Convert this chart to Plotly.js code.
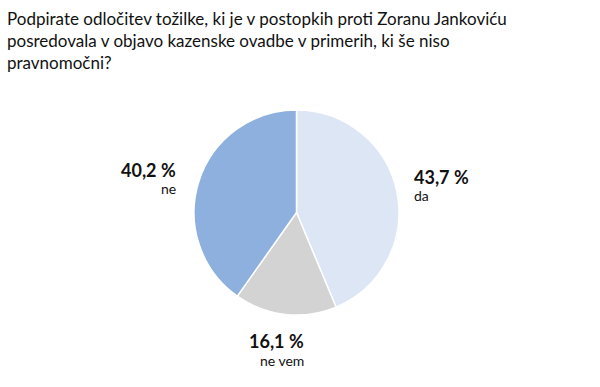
<!DOCTYPE html>
<html><head><meta charset="utf-8">
<script src="https://cdn.plot.ly/plotly-3.0.1.min.js"></script>
<style>html,body{margin:0;padding:0;background:#fff}#c{width:600px;height:387px}</style>
</head><body><div id="c"></div>
<script>
const categories = ["da", "ne vem", "ne"];
const values = [43.7, 16.1, 40.2];
const valueLabels = ["43,7 %", "16,1 %", "40,2 %"];
const colors = ["#dce6f5", "#d3d3d3", "#8eb0de"];
const titleText = "Podpirate odločitev tožilke, ki je v postopkih proti Zoranu Jankoviću<br>posredovala v objavo kazenske ovadbe v primerih, ki še niso<br>pravnomočni?";

const W = 600, H = 387;
const cx = 296.5, cy = 212.5, r = 102.5;
const FONT = "Lato, sans-serif";

// label positions (pixel) per category: [x, yValue, yCat, anchor]
const labelPos = {
  "da": [412, 177, 195, "left"],
  "ne vem": [306, 341, 360, "right"],
  "ne": [178, 170, 188, "right"]
};

const annotations = [{
  text: titleText, xref: "paper", yref: "paper", x: 5 / W, y: 1 - 6 / H,
  xanchor: "left", yanchor: "top", align: "left", showarrow: false,
  font: {family: FONT, size: 17, color: "#111111"}
}];
categories.forEach((c, i) => {
  const p = labelPos[c];
  annotations.push({
    text: "<b>" + valueLabels[i] + "</b>", xref: "paper", yref: "paper",
    x: p[0] / W, y: 1 - p[1] / H, xanchor: p[3], yanchor: "middle", showarrow: false,
    font: {family: FONT, size: 18, color: "#111111"}
  });
  annotations.push({
    text: c, xref: "paper", yref: "paper",
    x: p[0] / W, y: 1 - p[2] / H, xanchor: p[3], yanchor: "middle", showarrow: false,
    font: {family: FONT, size: 14, color: "#111111"}
  });
});

Plotly.newPlot("c", [{
  type: "pie", labels: categories, values: values, sort: false,
  direction: "clockwise", rotation: 0, textinfo: "none", hoverinfo: "label+value",
  marker: {colors: colors, line: {color: "#ffffff", width: 1.5}},
  domain: {x: [(cx - r) / W, (cx + r) / W], y: [(H - cy - r) / H, (H - cy + r) / H]},
  showlegend: false
}], {
  width: W, height: H, margin: {l: 0, r: 0, t: 0, b: 0},
  paper_bgcolor: "#fff", plot_bgcolor: "#fff", showlegend: false,
  annotations: annotations
}, {displayModeBar: false, staticPlot: true});
</script></body></html>
